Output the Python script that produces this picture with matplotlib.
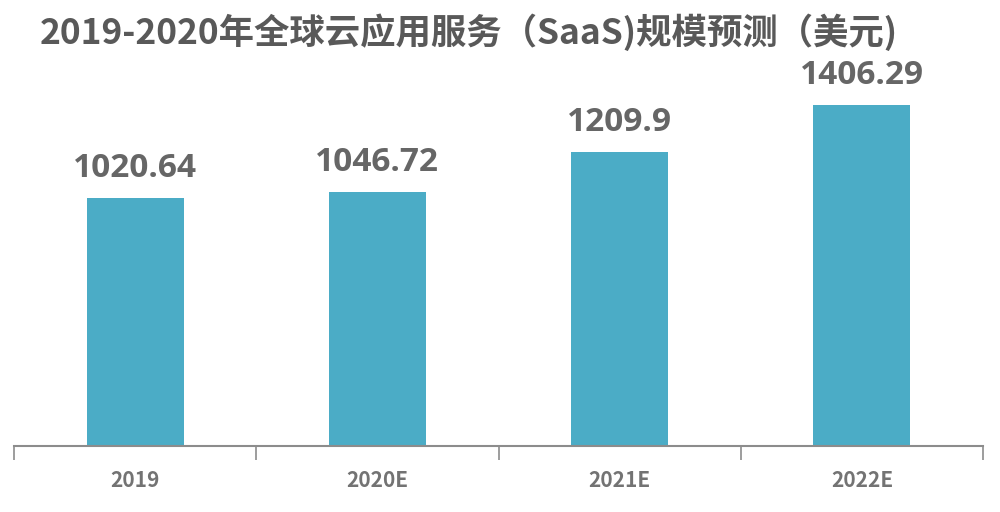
import matplotlib
matplotlib.use("Agg")
import matplotlib.pyplot as plt
import numpy as np

plt.rcParams['font.family'] = ['Noto Sans CJK SC', 'DejaVu Sans']

years = ["2019", "2020E", "2021E", "2022E"]
values = [1020.64, 1046.72, 1209.9, 1406.29]
labels = ["1020.64", "1046.72", "1209.9", "1406.29"]

BAR = "#4BACC6"
GRAY = "#666666"

fig = plt.figure(figsize=(10, 5.12), dpi=100)
ax = fig.add_axes([0.014, 0.129, 0.969, 0.758])

x = np.arange(len(years))
ax.bar(x, values, width=0.40, color=BAR)
for xi, v, t in zip(x, values, labels):
    ax.text(xi, v + 55, t, ha="center", va="bottom", fontsize=24,
            fontweight="bold", color=GRAY, family=["Open Sans", "DejaVu Sans"])

ax.set_xlim(-0.5, len(years) - 0.5)
ax.set_ylim(0, 1600)
for s in ["top", "right", "left"]:
    ax.spines[s].set_visible(False)
ax.spines["bottom"].set_color("#8C8C8C")
ax.spines["bottom"].set_linewidth(1.5)
ax.set_yticks([])

ax.set_xticks(np.arange(-0.5, len(years)), minor=False)
ax.set_xticklabels([])
ax.tick_params(axis="x", which="major", length=10, width=1.2, color="#8C8C8C")
ax.set_xticks(x, minor=True)
ax.set_xticklabels(years, minor=True, fontsize=15, fontweight="bold", color="#737373")
ax.tick_params(axis="x", which="minor", length=0, pad=17)

fig.text(0.04, 0.937, "2019-2020年全球云应用服务（SaaS)规模预测（美元)", ha="left", va="center",
         fontsize=25.5, fontweight="bold", color="#595959")

fig.savefig("out.png", dpi=100)
